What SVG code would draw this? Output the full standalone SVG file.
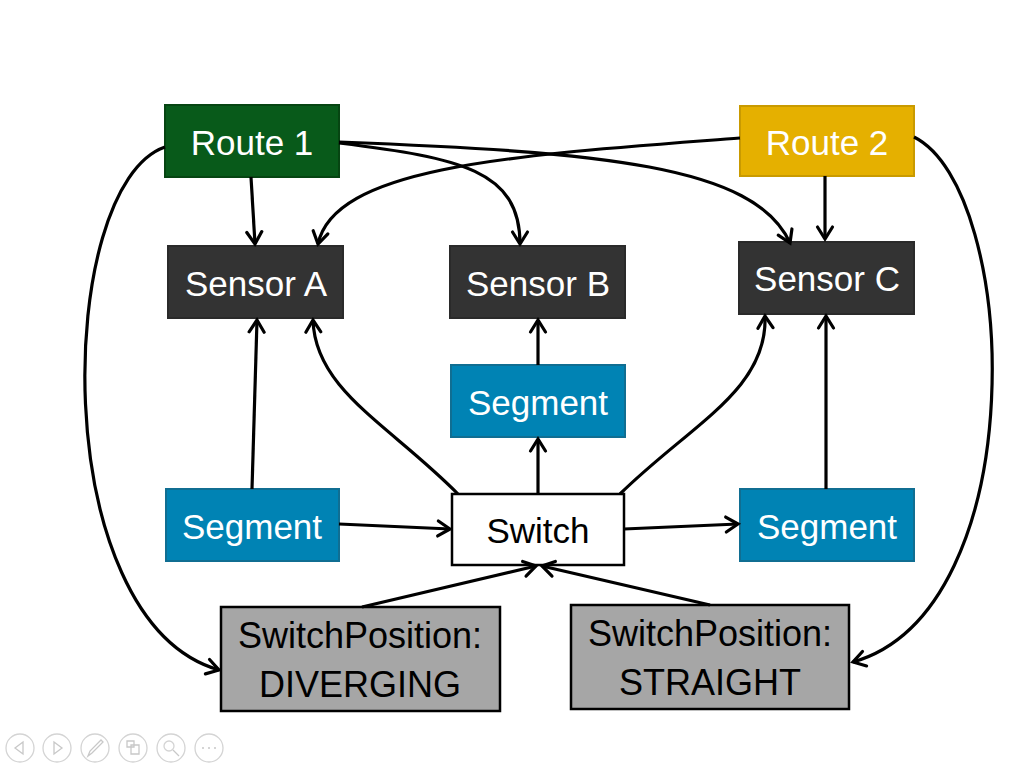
<svg xmlns="http://www.w3.org/2000/svg" width="1024" height="768" viewBox="0 0 1024 768">
<defs>
<marker id="arr" markerUnits="userSpaceOnUse" markerWidth="22" markerHeight="22" viewBox="0 0 22 22" refX="16" refY="11" orient="auto">
<path d="M4,3.5 L16,11 L4,18.5" fill="none" stroke="#000" stroke-width="3.2" stroke-linecap="round" stroke-linejoin="miter"/>
</marker>
</defs>
<style>
text{font-family:"Liberation Sans",Arial,sans-serif;font-size:35px;text-anchor:middle;dominant-baseline:central}
.w{fill:#fff}
.k{fill:#000}
.p{font-size:36px}
.sensor{fill:#333;stroke:#2a2a2a;stroke-width:2}
.seg{fill:#0083b4;stroke:#106e92;stroke-width:2}
.pos{fill:#a6a6a6;stroke:#000;stroke-width:2.5}
.conn path{fill:none;stroke:#000;stroke-width:3.2;marker-end:url(#arr)}
.ui circle{fill:none;stroke:#d4d4d4;stroke-width:1.3}
.ui path{fill:none;stroke:#c8c8c8;stroke-width:1.3}
</style>
<rect width="1024" height="768" fill="#fff"/>
<g id="route1"><rect x="165" y="105" width="174" height="72" fill="#085a1a" stroke="#064512" stroke-width="2"/><text class="w" x="252" y="142">Route 1</text></g>
<g id="route2"><rect x="740" y="106" width="174" height="70" fill="#e5b000" stroke="#c99a00" stroke-width="2"/><text class="w" x="827" y="142">Route 2</text></g>
<g id="sensorA"><rect class="sensor" x="168" y="246" width="175" height="72"/><text class="w" x="256" y="283">Sensor A</text></g>
<g id="sensorB"><rect class="sensor" x="450" y="246" width="175" height="72"/><text class="w" x="538" y="283">Sensor B</text></g>
<g id="sensorC"><rect class="sensor" x="739" y="242" width="175" height="72"/><text class="w" x="827" y="278">Sensor C</text></g>
<g id="segmentMid"><rect class="seg" x="451" y="365" width="174" height="72"/><text class="w" x="538" y="402">Segment</text></g>
<g id="segmentLeft"><rect class="seg" x="166" y="489" width="173" height="72"/><text class="w" x="252" y="526">Segment</text></g>
<g id="segmentRight"><rect class="seg" x="740" y="489" width="174" height="72"/><text class="w" x="827" y="526">Segment</text></g>
<g id="switch"><rect x="452" y="494" width="172" height="71" fill="#fff" stroke="#000" stroke-width="2.5"/><text class="k" x="538" y="530">Switch</text></g>
<g id="posDiverging"><rect class="pos" x="221" y="607" width="279" height="104"/><text class="k p" x="360" y="635">SwitchPosition:</text><text class="k p" x="360" y="684">DIVERGING</text></g>
<g id="posStraight"><rect class="pos" x="571" y="605" width="278" height="104"/><text class="k p" x="710" y="633">SwitchPosition:</text><text class="k p" x="710" y="682">STRAIGHT</text></g>
<g id="connectors" class="conn">
<path d="M251,177 L255,244"/>
<path d="M339,143 C460,158 520,170 520,244"/>
<path d="M339,142 C600,152 755,165 790,243"/>
<path d="M740,138 C520,155 335,165 318,244"/>
<path d="M825,176 L825,239"/>
<path d="M165,147 C55,185 45,620 219,670"/>
<path d="M914,137 C1020,190 1035,610 853,662"/>
<path d="M252,489 L257,320"/>
<path d="M458,494 C390,425 315,390 313,320"/>
<path d="M538,494 L538,439"/>
<path d="M538,365 L538,320"/>
<path d="M620,494 C690,425 768,390 765,316"/>
<path d="M826,489 L826,316"/>
<path d="M339,524 L450,529"/>
<path d="M624,529 L738,524"/>
<path d="M362,607 L536,566"/>
<path d="M710,605 L542,566"/>
</g>
<g class="ui">
<circle cx="20" cy="748" r="14"/><path d="M23,742 L15,748 L23,754 Z"/>
<circle cx="57" cy="748" r="14"/><path d="M54,742 L62,748 L54,754 Z"/>
<circle cx="95" cy="748" r="14"/><path d="M88,756 L90,751 L101,740 L103,742 L92,753 Z"/>
<circle cx="133" cy="748" r="14"/><path d="M127,741 h7 v6 h-7 Z M131,745 h8 v9 h-8 Z"/>
<circle cx="171" cy="748" r="14"/><circle cx="169" cy="746" r="5"/><path d="M173,750 L179,756"/>
<circle cx="209" cy="748" r="14"/><path d="M202,748 h2 M208,748 h2 M214,748 h2"/>
</g>
</svg>
